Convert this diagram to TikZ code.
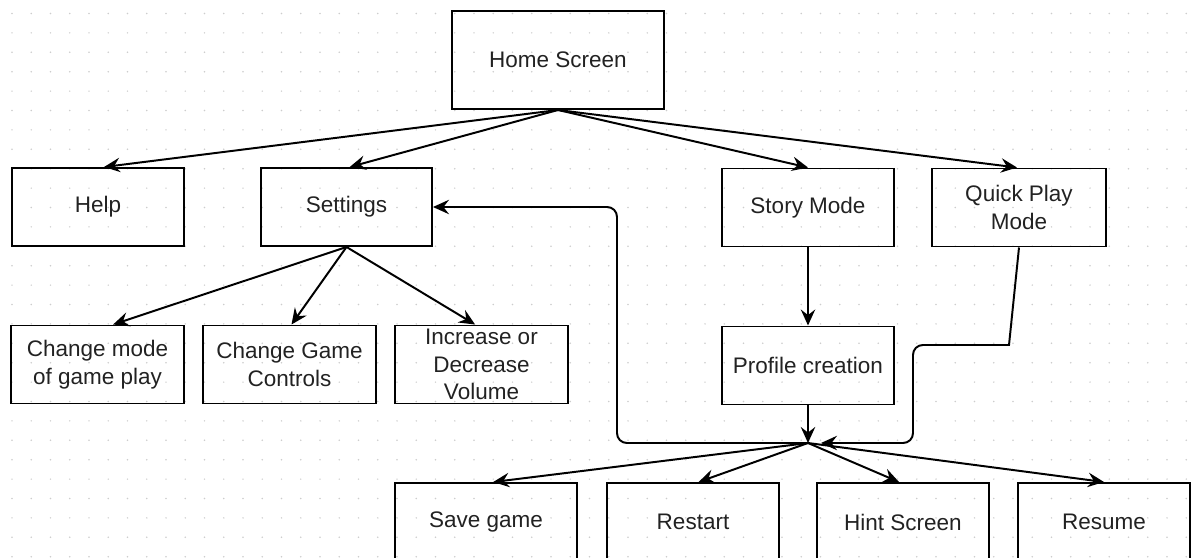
\documentclass[tikz,border=0pt]{standalone}
\usepackage{fontspec}
\setmainfont{Liberation Sans}
\usepackage{tikz}
\usepackage{xcolor}
\usetikzlibrary{arrows.meta, positioning}
\definecolor{cDot}{RGB}{205,205,205}
\definecolor{cText}{RGB}{34,34,34}
\tikzset{
	screen/.style={rectangle, draw=black, line width=1.4pt, minimum height=1.95cm, text centered, align=center, text=cText, font=\fontsize{16}{19.5}\selectfont, inner sep=2pt},
	link/.style={-{Stealth[length=4mm, width=3.6mm, inset=1.4mm]}, line width=1.4pt},
	% backwards link with bends
	loop/.style={link, rounded corners=7pt},
}

\begin{document}
\begin{tikzpicture}[x=0.025cm, y=-0.025cm]
	\useasboundingbox (0,0) rectangle (1197,558);
	% dotted grid
	\foreach \i in {0,...,62} {
		\foreach \j in {0,...,28} {
			\fill[cDot] (12+\i*19.25, 13.5+\j*19.4) circle (0.6pt);
		}
	}
	% screens
	\node[screen, minimum width=5.3cm, minimum height=2.45cm] (home) at (558,60) {Home Screen};
	\node[screen, minimum width=4.3cm] (help) at (98,207) {Help};
	\node[screen, minimum width=4.275cm] (settings) at (346.5,207) {Settings};
	\node[screen, minimum width=4.3cm] (story) at (808,207.5) {Story Mode};
	\node[screen, minimum width=4.35cm] (quick) at (1019,207.5) {Quick Play\\Mode};
	\node[screen, minimum width=4.325cm] (chmode) at (97.5,364.5) {Change mode\\of game play};
	\node[screen, minimum width=4.3cm] (controls) at (289.5,364.5) {Change Game\\Controls};
	\node[screen, minimum width=4.325cm] (volume) at (481.5,364.5) {Increase or\\Decrease\\Volume};
	\node[screen, minimum width=4.3cm] (profile) at (808,365.5) {Profile creation};
	\node[screen, minimum width=4.55cm] (save) at (486,522) {Save game};
	\node[screen, minimum width=4.3cm] (restart) at (693,522) {Restart};
	\node[screen, minimum width=4.3cm] (hint) at (903,522) {Hint Screen};
	\node[screen, minimum width=4.3cm] (resume) at (1104,522) {Resume};
	\coordinate (hub) at (808,443);
	\coordinate (hubR) at (821,443);
	% home screen menu
	\draw[link] (home.south) -- ([xshift=0.15cm]help.north);
	\draw[link] (home.south) -- ([xshift=0.08cm]settings.north);
	\draw[link] (home.south) -- (story.north);
	\draw[link] (home.south) -- ([xshift=-0.05cm]quick.north);
	% settings menu
	\draw[link] (settings.south) -- ([xshift=0.39cm]chmode.north);
	\draw[link] (settings.south) -- ([xshift=0.05cm]controls.north);
	\draw[link] (settings.south) -- ([xshift=-0.16cm]volume.north);
	\draw[link] (story.south) -- (profile.north);
	\draw[link] (profile.south) -- (hub);
	\draw[link] (quick.south) -- (1009,345) [rounded corners=7pt] -- (913,345) -- (913,443) -- (hubR);
	\draw[loop] (hub) -- (617,443) -- (617,207) -- (settings.east);
	% in game menu
	\draw[link] (hub) -- ([xshift=0.18cm]save.north);
	\draw[link] (hub) -- ([xshift=0.14cm]restart.north);
	\draw[link] (hub) -- ([xshift=-0.1cm]hint.north);
	\draw[link] (hub) -- (resume.north);
\end{tikzpicture}
\end{document}
